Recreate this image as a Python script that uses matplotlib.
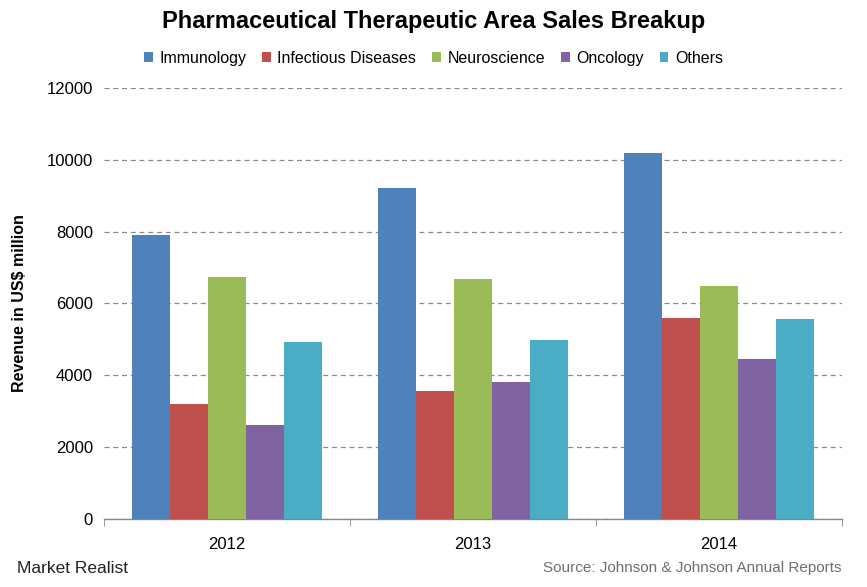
import numpy as np
import matplotlib.pyplot as plt
from matplotlib.ticker import FixedLocator

plt.rcParams['font.family'] = ['Liberation Sans', 'DejaVu Sans']

years = ['2012', '2013', '2014']
series = ['Immunology', 'Infectious Diseases', 'Neuroscience', 'Oncology', 'Others']
immunology = [7900, 9210, 10200]
infectious = [3210, 3570, 5590]
neuroscience = [6730, 6670, 6500]
oncology = [2620, 3800, 4460]
others = [4940, 4970, 5580]
values = [immunology, infectious, neuroscience, oncology, others]
colors = ['#4F81BD', '#C0504D', '#9BBB59', '#8064A2', '#4BACC6']

fig = plt.figure(figsize=(8.67, 5.87), dpi=100)
ax = fig.add_axes([0.12, 0.116, 0.851, 0.734])

x = np.arange(len(years))
w = 0.154
for i, (name, vals, c) in enumerate(zip(series, values, colors)):
    ax.bar(x + (i - 2) * w, vals, width=w, color=c, label=name, zorder=3)

ax.set_xlim(-0.5, 2.5)
ax.set_ylim(0, 12000)
ax.set_yticks(range(0, 12001, 2000))
ax.yaxis.grid(True, linestyle=(0, (4, 3)), color='#8c8c8c', linewidth=0.9, zorder=0)

for s in ['top', 'right', 'left']:
    ax.spines[s].set_visible(False)
ax.spines['bottom'].set_color('#868686')
ax.spines['bottom'].set_linewidth(1.0)

ax.set_xticks(x)
ax.set_xticklabels(years)
ax.xaxis.set_minor_locator(FixedLocator([-0.5, 0.5, 1.5, 2.5]))
ax.tick_params(axis='x', which='major', length=0, labelsize=12, pad=13)
ax.tick_params(axis='x', which='minor', length=5, direction='out', color='#868686')
ax.tick_params(axis='y', length=0, labelsize=12, pad=8)

ax.set_ylabel('Revenue in US$ million', fontsize=11.5, fontweight='bold', labelpad=14)

fig.text(0.5, 0.963, 'Pharmaceutical Therapeutic Area Sales Breakup',
         ha='center', va='center', fontsize=17, fontweight='bold')

fig.legend(loc='center', bbox_to_anchor=(0.5, 0.901), ncol=5, frameon=False,
           fontsize=11.5, handlelength=0.55, handleheight=0.55, handletextpad=0.4,
           columnspacing=1.0)

fig.text(0.02, 0.032, 'Market Realist', ha='left', va='center',
         fontsize=12.5, color='#222222')
fig.text(0.971, 0.032, 'Source: Johnson & Johnson Annual Reports', ha='right',
         va='center', fontsize=11, color='#6e6e6e')

fig.savefig('out.png', dpi=100, facecolor='white')
